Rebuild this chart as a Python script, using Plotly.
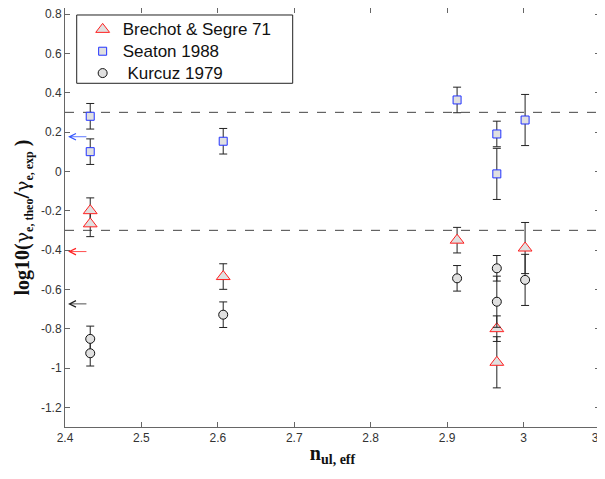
import plotly.graph_objects as go

# ---- data ----
brechot_x = [2.433, 2.433, 2.607, 2.913, 2.965, 2.965, 3.002]
brechot_y = [-0.20, -0.267, -0.535, -0.35, -0.80, -0.971, -0.39]
brechot_err = [0.065, 0.065, 0.065, 0.065, 0.065, 0.13, 0.13]

seaton_x = [2.433, 2.433, 2.607, 2.913, 2.965, 2.965, 3.002]
seaton_y = [0.28, 0.10, 0.153, 0.363, 0.19, -0.013, 0.261]
seaton_err = [0.065, 0.065, 0.065, 0.065, 0.065, 0.13, 0.13]

kurcuz_x = [2.433, 2.433, 2.607, 2.913, 2.965, 2.965, 3.002]
kurcuz_y = [-0.852, -0.925, -0.729, -0.544, -0.493, -0.663, -0.552]
kurcuz_err = [0.065, 0.065, 0.065, 0.065, 0.065, 0.13, 0.13]

# mean-value arrows at the left edge
arrow_vals = [0.176, -0.408, -0.674]
arrow_cols = ["#3355ff", "#ff2222", "#222222"]
arrow_x_from = 2.430
arrow_x_to = 2.404

# reference dashed levels
ref_levels = [0.3, -0.3]

x_ticks = [2.4, 2.5, 2.6, 2.7, 2.8, 2.9, 3.0, 3.1]
x_ticklabels = ["2.4", "2.5", "2.6", "2.7", "2.8", "2.9", "3", "3.1"]
y_ticks = [-1.2, -1.0, -0.8, -0.6, -0.4, -0.2, 0, 0.2, 0.4, 0.6, 0.8]
y_ticklabels = ["-1.2", "-1", "-0.8", "-0.6", "-0.4", "-0.2", "0", "0.2", "0.4", "0.6", "0.8"]

fill = "#e0e0e0"
errc = "#222222"

fig = go.Figure()

def add_series(x, y, e, name, symbol, size, color):
    fig.add_trace(go.Scatter(
        x=x, y=y, mode="markers",
        name="<span style='font-size:17px'>" + name + "</span>",
        marker=dict(symbol=symbol, size=size, color=fill,
                    line=dict(color=color, width=1)),
        error_y=dict(type="data", array=e, visible=True,
                     color=errc, thickness=1, width=4),
    ))

add_series(brechot_x, brechot_y, brechot_err, "Brechot &amp; Segre 71", "triangle-up", 12, "#ff2020")
add_series(seaton_x, seaton_y, seaton_err, "Seaton 1988", "square", 8, "#2233ff")
add_series(kurcuz_x, kurcuz_y, kurcuz_err, " Kurcuz 1979", "circle", 9, "#111111")

for lv in ref_levels:
    fig.add_shape(type="line", xref="x", yref="y", x0=2.4, x1=3.1, y0=lv, y1=lv,
                  line=dict(color="#444444", width=1, dash="dash"), layer="below")

# legend frame
fig.add_shape(type="rect", xref="paper", yref="paper", x0=0.0219, x1=0.4256, y0=0.8203, y1=0.9833,
              line=dict(color="#222222", width=1), fillcolor="rgba(0,0,0,0)", layer="above")

for v, c in zip(arrow_vals, arrow_cols):
    fig.add_annotation(x=arrow_x_to, y=v, ax=arrow_x_from, ay=v,
                       xref="x", yref="y", axref="x", ayref="y",
                       text="", showarrow=True, arrowhead=5, arrowsize=1.6,
                       arrowwidth=0.8, arrowcolor=c)

axis_common = dict(showline=True, linecolor="#666666", linewidth=1, mirror="ticks",
                   ticks="inside", ticklen=5, tickcolor="#666666", showgrid=False,
                   zeroline=False, automargin=False, ticklabeloverflow="allow",
                   tickfont=dict(family="Liberation Sans, Arial", size=12, color="#333333"))

g = "<span style='font-family:DejaVu Serif;font-size:19px'>γ</span>"
ytitle = ("<b>log10(</b>" + g + "<sub><span style='font-size:12px'><b>e, theo</b></span></sub>"
          "<span style='font-size:24px'><b>/</b></span>" + g +
          "<sub><span style='font-size:12px'><b>e, exp</b></span></sub><b> )</b>")

fig.update_xaxes(range=[2.4, 3.1], tickvals=x_ticks, ticktext=x_ticklabels,
                 title=dict(text="<b>n</b><sub><b>ul, eff</b></sub>",
                            font=dict(family="Liberation Serif, Times New Roman", size=20, color="#111111"),
                            standoff=1),
                 **axis_common)
fig.update_yaxes(range=[-1.3, 0.8305], tickvals=y_ticks, ticktext=y_ticklabels,
                 title=dict(text=ytitle,
                            font=dict(family="Liberation Serif, Times New Roman", size=20, color="#111111"),
                            standoff=8),
                 **axis_common)

fig.update_layout(
    width=597, height=471,
    margin=dict(l=57, r=5, t=0, b=52),
    plot_bgcolor="white", paper_bgcolor="white",
    showlegend=True,
    legend=dict(x=0.033, y=0.987, xanchor="left", yanchor="top",
                borderwidth=0, bgcolor="rgba(0,0,0,0)",
                font=dict(family="Liberation Sans, Arial", size=14.5, color="#111111"),
                tracegroupgap=0, itemwidth=30),
)

fig.write_html("out.html")
